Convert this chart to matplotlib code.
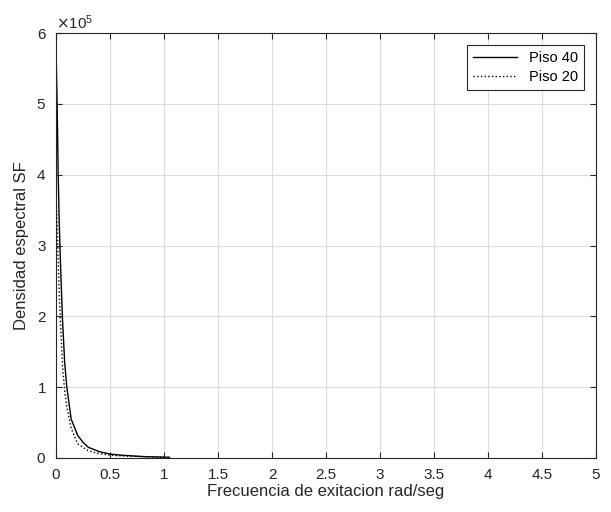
import numpy as np
import matplotlib
matplotlib.use("Agg")
import matplotlib.pyplot as plt
from matplotlib.ticker import ScalarFormatter

plt.rcParams["font.family"] = ["Liberation Sans", "DejaVu Sans"]

# Piso 40 (solid) — frequency [rad/s], spectral density [x1e5]
x_p40 = [0.003, 0.01, 0.02, 0.03, 0.04, 0.06, 0.08, 0.1, 0.14, 0.2, 0.25,
         0.3, 0.4, 0.5, 0.6, 0.7, 0.8, 1.0, 1.05]
y_p40 = [5.55, 5.0, 4.0, 3.3, 2.8, 1.95, 1.35, 1.0, 0.55, 0.32, 0.22,
         0.15, 0.09, 0.055, 0.04, 0.03, 0.02, 0.012, 0.01]

# Piso 20 (dotted)
x_p20 = [0.003, 0.01, 0.02, 0.03, 0.04, 0.06, 0.08, 0.1, 0.14, 0.2, 0.3,
         0.4, 0.5, 0.6, 0.8, 1.0]
y_p20 = [3.6, 3.3, 2.8, 2.3, 1.95, 1.3, 0.95, 0.72, 0.42, 0.2, 0.1,
         0.06, 0.04, 0.03, 0.02, 0.01]

labels = ["Piso 40", "Piso 20"]

fig = plt.figure(figsize=(6.11, 5.12), dpi=100)
ax = fig.add_axes([0.0917, 0.1055, 0.8838, 0.83])

ax.plot(x_p40, np.array(y_p40) * 1e5, color="black", lw=1.0, ls="-", label=labels[0])
ax.plot(x_p20, np.array(y_p20) * 1e5, color="black", lw=1.0, ls=":", label=labels[1])

ax.set_xlim(0, 5)
ax.set_ylim(0, 6e5)
ax.set_xticks(np.arange(0, 5.01, 0.5))
ax.set_xticklabels(["0", "0.5", "1", "1.5", "2", "2.5", "3", "3.5", "4", "4.5", "5"])
ax.set_yticks(np.arange(0, 6.01e5, 1e5))

fmt = ScalarFormatter(useMathText=True)
fmt.set_powerlimits((0, 0))
ax.yaxis.set_major_formatter(fmt)
ax.yaxis.get_offset_text().set_fontsize(11)
ax.yaxis.get_offset_text().set_color("#262626")

ax.grid(True, color="#dcdcdc", lw=0.8)
ax.set_axisbelow(True)
ax.tick_params(direction="in", top=True, right=True, labelsize=11,
               colors="#262626", length=4)
ax.tick_params(axis="x", pad=7)
ax.tick_params(axis="y", pad=7)
for s in ax.spines.values():
    s.set_color("#262626")
    s.set_linewidth(0.8)

ax.set_xlabel("Frecuencia de exitacion rad/seg", fontsize=12, color="#262626", labelpad=2)
ax.set_ylabel("Densidad espectral SF", fontsize=12, color="#262626", labelpad=5)

leg = ax.legend(loc="upper right", fontsize=10.5, frameon=True, fancybox=False,
                edgecolor="#262626", framealpha=1, handlelength=3.0,
                borderaxespad=0.8, borderpad=0.45, labelspacing=0.3)
leg.get_frame().set_linewidth(0.8)

fig.savefig("out.png", dpi=100)
